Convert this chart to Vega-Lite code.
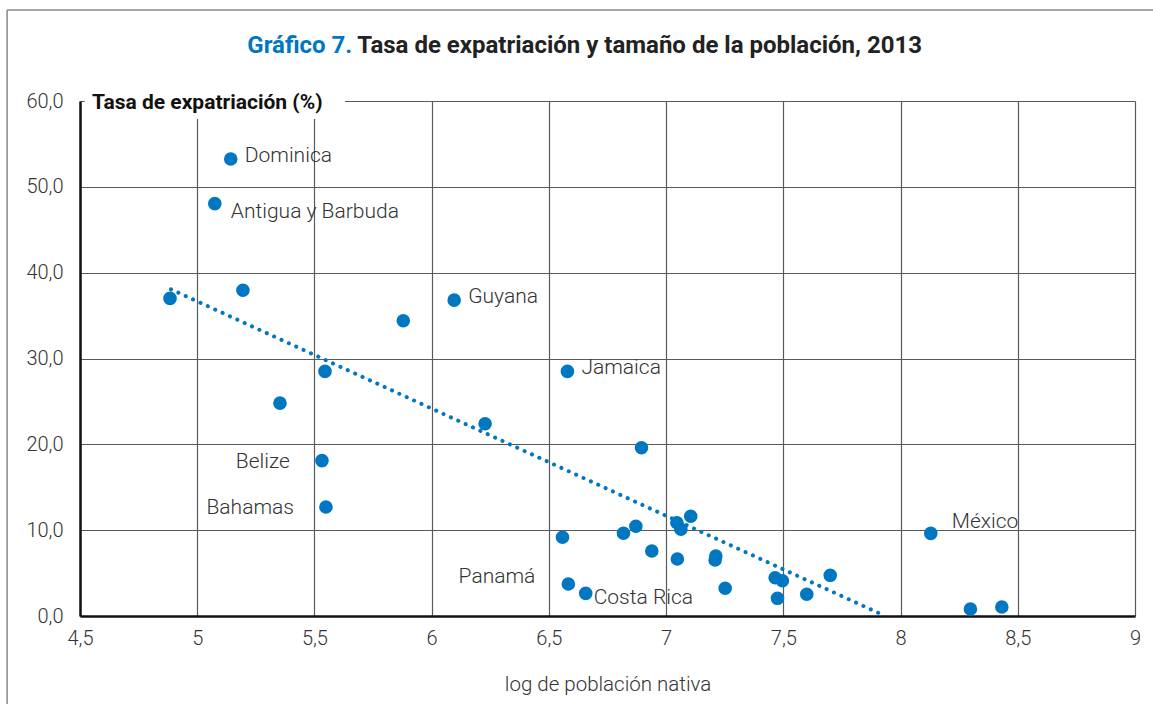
{
  "$schema": "https://vega.github.io/schema/vega-lite/v6.json",
  "width": 1055,
  "height": 515,
  "autosize": "none",
  "padding": {"left": 80, "top": 101, "right": 18, "bottom": 88},
  "background": "white",
  "config": {
    "view": {"stroke": null},
    "font": "Roboto",
    "axis": {
      "grid": true,
      "gridColor": "#5a5a5a",
      "gridWidth": 1.2,
      "gridOpacity": 1,
      "domainColor": "#111111",
      "domainWidth": 2.5,
      "ticks": false,
      "labelFont": "Roboto",
      "labelFontWeight": 300,
      "labelFontSize": 20,
      "labelColor": "#333333",
      "titleFont": "Roboto",
      "titleFontWeight": 300,
      "titleFontSize": 20.5,
      "titleColor": "#333333"
    }
  },
  "datasets": {
    "uno": [{"k": 1}],
    "puntos": [
      {"pais": "Dominica", "logpob": 5.143, "tasa": 53.25},
      {"pais": "Antigua y Barbuda", "logpob": 5.075, "tasa": 48.04},
      {"pais": "", "logpob": 4.884, "tasa": 37.0},
      {"pais": "", "logpob": 5.195, "tasa": 37.95},
      {"pais": "", "logpob": 5.879, "tasa": 34.4},
      {"pais": "Guyana", "logpob": 6.096, "tasa": 36.8},
      {"pais": "", "logpob": 5.545, "tasa": 28.5},
      {"pais": "", "logpob": 5.353, "tasa": 24.8},
      {"pais": "", "logpob": 6.228, "tasa": 22.4},
      {"pais": "Jamaica", "logpob": 6.579, "tasa": 28.5},
      {"pais": "", "logpob": 6.895, "tasa": 19.6},
      {"pais": "Belize", "logpob": 5.532, "tasa": 18.1},
      {"pais": "Bahamas", "logpob": 5.549, "tasa": 12.7},
      {"pais": "", "logpob": 6.558, "tasa": 9.17},
      {"pais": "", "logpob": 6.818, "tasa": 9.64},
      {"pais": "", "logpob": 6.871, "tasa": 10.45},
      {"pais": "", "logpob": 7.046, "tasa": 10.87},
      {"pais": "", "logpob": 7.063, "tasa": 10.1},
      {"pais": "", "logpob": 7.105, "tasa": 11.62},
      {"pais": "", "logpob": 6.939, "tasa": 7.57},
      {"pais": "", "logpob": 7.048, "tasa": 6.64},
      {"pais": "", "logpob": 7.212, "tasa": 6.99},
      {"pais": "", "logpob": 7.209, "tasa": 6.52},
      {"pais": "", "logpob": 7.252, "tasa": 3.23},
      {"pais": "Panamá", "logpob": 6.583, "tasa": 3.73},
      {"pais": "Costa Rica", "logpob": 6.657, "tasa": 2.64},
      {"pais": "", "logpob": 7.465, "tasa": 4.46},
      {"pais": "", "logpob": 7.496, "tasa": 4.11},
      {"pais": "", "logpob": 7.475, "tasa": 2.06},
      {"pais": "", "logpob": 7.6, "tasa": 2.53},
      {"pais": "", "logpob": 7.7, "tasa": 4.74},
      {"pais": "México", "logpob": 8.129, "tasa": 9.63},
      {"pais": "", "logpob": 8.298, "tasa": 0.82},
      {"pais": "", "logpob": 8.432, "tasa": 1.05}
    ],
    "tendencia": [
      {"logpob": 4.888, "tasa": 38.06},
      {"logpob": 7.915, "tasa": 0.25}
    ]
  },
  "layer": [
    {
      "data": {"name": "puntos"},
      "mark": {"type": "circle", "color": "#0077c0", "opacity": 1, "size": 185},
      "encoding": {
        "x": {
          "field": "logpob",
          "type": "quantitative",
          "scale": {"domain": [4.5, 9], "nice": false, "zero": false},
          "axis": {
            "values": [4.5, 5, 5.5, 6, 6.5, 7, 7.5, 8, 8.5, 9],
            "labelExpr": "replace(toString(datum.value), '.', ',')",
            "labelPadding": 12,
            "title": "log de población nativa",
            "titlePadding": 26,
            "labelFlush": false,
            "grid": true
          }
        },
        "y": {
          "field": "tasa",
          "type": "quantitative",
          "scale": {"domain": [0, 60], "nice": false},
          "axis": {
            "values": [0, 10, 20, 30, 40, 50, 60],
            "labelExpr": "replace(format(datum.value, '.1f'), '.', ',')",
            "labelPadding": 17,
            "title": null,
            "grid": true
          }
        }
      }
    },
    {
      "data": {"name": "uno"},
      "mark": {"type": "rule", "color": "#888888", "strokeWidth": 1.5},
      "encoding": {
        "x": {"datum": 4.189, "type": "quantitative"},
        "y": {"datum": 70.6, "type": "quantitative"},
        "y2": {"datum": -11}
      }
    },
    {
      "data": {"name": "uno"},
      "mark": {"type": "rule", "color": "#888888", "strokeWidth": 1.5},
      "encoding": {
        "x": {"datum": 4.189, "type": "quantitative"},
        "x2": {"datum": 9.1},
        "y": {"datum": 70.6, "type": "quantitative"}
      }
    },
    {
      "data": {"name": "tendencia"},
      "mark": {"type": "line", "color": "#0077c0", "strokeWidth": 4, "strokeDash": [0.1, 8], "strokeCap": "round"},
      "encoding": {
        "x": {"field": "logpob", "type": "quantitative"},
        "y": {"field": "tasa", "type": "quantitative"}
      }
    },
    {
      "data": {"name": "puntos"},
      "transform": [{"filter": "indexof(['Dominica','Guyana','Jamaica'], datum.pais) >= 0"}],
      "mark": {"type": "text", "align": "left", "baseline": "middle", "dx": 14, "dy": -3, "fontSize": 21, "fontWeight": 300, "color": "#333333"},
      "encoding": {
        "x": {"field": "logpob", "type": "quantitative"},
        "y": {"field": "tasa", "type": "quantitative"},
        "text": {"field": "pais"}
      }
    },
    {
      "data": {"name": "puntos"},
      "transform": [{"filter": "datum.pais == 'Antigua y Barbuda'"}],
      "mark": {"type": "text", "align": "left", "baseline": "middle", "dx": 16, "dy": 8, "fontSize": 21, "fontWeight": 300, "color": "#333333"},
      "encoding": {
        "x": {"field": "logpob", "type": "quantitative"},
        "y": {"field": "tasa", "type": "quantitative"},
        "text": {"field": "pais"}
      }
    },
    {
      "data": {"name": "puntos"},
      "transform": [{"filter": "datum.pais == 'Belize' || datum.pais == 'Bahamas'"}],
      "mark": {"type": "text", "align": "right", "baseline": "middle", "dx": -32, "dy": 1, "fontSize": 21, "fontWeight": 300, "color": "#333333"},
      "encoding": {
        "x": {"field": "logpob", "type": "quantitative"},
        "y": {"field": "tasa", "type": "quantitative"},
        "text": {"field": "pais"}
      }
    },
    {
      "data": {"name": "puntos"},
      "transform": [{"filter": "datum.pais == 'Panamá'"}],
      "mark": {"type": "text", "align": "right", "baseline": "middle", "dx": -33, "dy": -7, "fontSize": 21, "fontWeight": 300, "color": "#333333"},
      "encoding": {
        "x": {"field": "logpob", "type": "quantitative"},
        "y": {"field": "tasa", "type": "quantitative"},
        "text": {"field": "pais"}
      }
    },
    {
      "data": {"name": "puntos"},
      "transform": [{"filter": "datum.pais == 'Costa Rica'"}],
      "mark": {"type": "text", "align": "left", "baseline": "middle", "dx": 8, "dy": 5, "fontSize": 21, "fontWeight": 300, "color": "#333333"},
      "encoding": {
        "x": {"field": "logpob", "type": "quantitative"},
        "y": {"field": "tasa", "type": "quantitative"},
        "text": {"field": "pais"}
      }
    },
    {
      "data": {"name": "puntos"},
      "transform": [{"filter": "datum.pais == 'México'"}],
      "mark": {"type": "text", "align": "left", "baseline": "middle", "dx": 21, "dy": -11, "fontSize": 21, "fontWeight": 300, "color": "#333333"},
      "encoding": {
        "x": {"field": "logpob", "type": "quantitative"},
        "y": {"field": "tasa", "type": "quantitative"},
        "text": {"field": "pais"}
      }
    },
    {
      "data": {"name": "uno"},
      "mark": {"type": "rect", "color": "white"},
      "encoding": {
        "x": {"datum": 4.52, "type": "quantitative"},
        "x2": {"datum": 5.63},
        "y": {"datum": 57.9, "type": "quantitative"},
        "y2": {"datum": 61.5}
      }
    },
    {
      "data": {"name": "uno"},
      "mark": {"type": "text", "align": "left", "baseline": "middle", "dx": 12, "dy": 2, "fontSize": 21, "fontWeight": "bold", "color": "#111111", "text": "Tasa de expatriación (%)"},
      "encoding": {
        "x": {"datum": 4.5, "type": "quantitative"},
        "y": {"datum": 60, "type": "quantitative"}
      }
    },
    {
      "data": {"name": "uno"},
      "mark": {"type": "text", "align": "right", "baseline": "middle", "dx": -2, "fontSize": 24, "fontWeight": "bold", "color": "#0077c0", "text": "Gráfico 7."},
      "encoding": {
        "x": {"datum": 5.67, "type": "quantitative"},
        "y": {"datum": 66.4, "type": "quantitative"}
      }
    },
    {
      "data": {"name": "uno"},
      "mark": {"type": "text", "align": "left", "baseline": "middle", "dx": 3, "fontSize": 24, "fontWeight": "bold", "color": "#222222", "text": "Tasa de expatriación y tamaño de la población, 2013"},
      "encoding": {
        "x": {"datum": 5.67, "type": "quantitative"},
        "y": {"datum": 66.4, "type": "quantitative"}
      }
    }
  ]
}
